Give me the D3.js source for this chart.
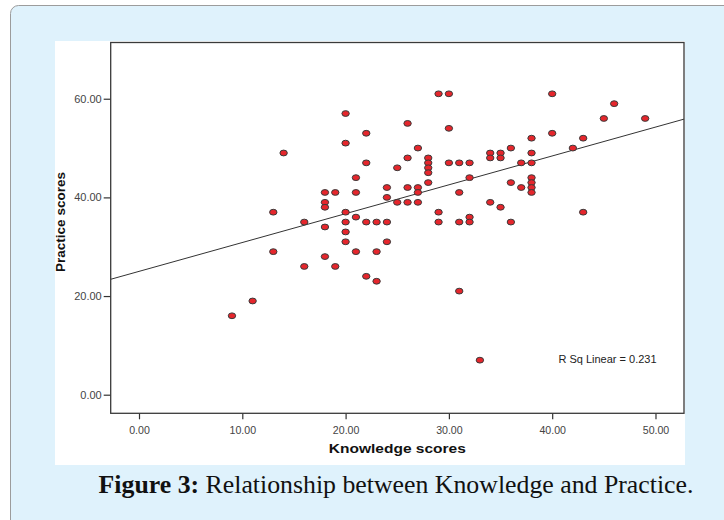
<!DOCTYPE html>
<html>
<head>
<meta charset="utf-8">
<script src="https://cdn.jsdelivr.net/npm/d3@7"></script>
<style>
  body { margin: 0; background: #ffffff; }
  svg { display: block; }
</style>
</head>
<body>
<script>
// Knowledge score (x) of each respondent
var knowledge = [9, 11, 13, 13, 14, 16, 16,
  18, 18, 18, 18, 18, 19, 19,
  20, 20, 20, 20, 20, 20,
  21, 21, 21, 21, 22, 22, 22, 22,
  23, 23, 23, 24, 24, 24, 24, 25, 25,
  26, 26, 26, 26, 27, 27, 27, 27,
  28, 28, 28, 28, 28, 29, 29, 29,
  30, 30, 30, 31, 31, 31, 31,
  32, 32, 32, 32, 33,
  34, 34, 34, 35, 35, 35, 36, 36, 36, 37, 37,
  38, 38, 38, 38, 38, 38, 38,
  40, 40, 42, 43, 43, 45, 46, 49];

// Practice score (y) of each respondent, same order
var practice = [16, 19, 37, 29, 49, 35, 26,
  41, 39, 38, 34, 28, 41, 26,
  57, 51, 37, 35, 33, 31,
  44, 41, 36, 29, 53, 47, 35, 24,
  35, 29, 23, 42, 40, 35, 31, 46, 39,
  55, 48, 42, 39, 50, 42, 41, 39,
  48, 47, 46, 45, 43, 61, 37, 35,
  61, 54, 47, 47, 41, 35, 21,
  47, 44, 36, 35, 7,
  49, 48, 39, 49, 48, 38, 50, 43, 35, 47, 42,
  52, 49, 47, 44, 43, 42, 41,
  61, 53, 50, 52, 37, 56, 59, 56];

var xTicks = [0, 10, 20, 30, 40, 50];
var yTicks = [0, 20, 40, 60];

// Fit line as printed by SPSS
var fitIntercept = 25.0;
var fitSlope = 0.585;
var rSquared = 0.231;

function drawChart() {

  var svgWidth = 724;
  var svgHeight = 520;

  // plot frame inside the white chart image
  var frame = { left: 110.7, top: 42.5, right: 684, bottom: 413.3 };
  var frameWidth = frame.right - frame.left;
  var frameHeight = frame.bottom - frame.top;

  var svg = d3.select("body")
      .append("svg")
      .attr("width", svgWidth)
      .attr("height", svgHeight);

  // light blue figure panel
  svg.append("rect")
      .attr("x", 10.5)
      .attr("y", 5.5)
      .attr("width", 740)
      .attr("height", 540)
      .attr("rx", 8)
      .attr("fill", "#dff2fc")
      .attr("stroke", "#9c9c9c");

  // white chart image
  svg.append("rect")
      .attr("x", 55)
      .attr("y", 41)
      .attr("width", 630)
      .attr("height", 424)
      .attr("fill", "#ffffff");

  var chartGroup = svg.append("g")
      .attr("transform", `translate(${frame.left}, ${frame.top})`);

  var xScale = d3.scaleLinear()
      .domain([-2.74, 52.76])
      .range([0, frameWidth]);

  var yScale = d3.scaleLinear()
      .domain([-3.77, 71.4])
      .range([frameHeight, 0]);

  var bottomAxis = d3.axisBottom(xScale)
      .tickValues(xTicks)
      .tickFormat(d3.format(".2f"))
      .tickSize(6)
      .tickPadding(7);

  var leftAxis = d3.axisLeft(yScale)
      .tickValues(yTicks)
      .tickFormat(d3.format(".2f"))
      .tickSize(7)
      .tickPadding(2);

  var xAxisGroup = chartGroup.append("g")
      .attr("transform", `translate(0, ${frameHeight})`)
      .call(bottomAxis);

  var yAxisGroup = chartGroup.append("g")
      .call(leftAxis);

  [xAxisGroup, yAxisGroup].forEach(function (g) {
    g.select(".domain").remove();
    g.selectAll(".tick line").attr("stroke", "#333").attr("stroke-width", 1.2);
    g.selectAll(".tick text")
        .attr("fill", "#444")
        .style("font-family", "'Liberation Sans', Arial, sans-serif");
  });
  xAxisGroup.selectAll(".tick text").style("font-size", "10.6px");
  yAxisGroup.selectAll(".tick text").style("font-size", "11px");

  // regression line, clipped to the frame
  svg.append("clipPath")
      .attr("id", "plot-clip")
      .append("rect")
      .attr("width", frameWidth)
      .attr("height", frameHeight);

  var xDomain = xScale.domain();
  chartGroup.append("line")
      .attr("clip-path", "url(#plot-clip)")
      .attr("x1", xScale(xDomain[0]))
      .attr("y1", yScale(fitIntercept + fitSlope * xDomain[0]))
      .attr("x2", xScale(xDomain[1]))
      .attr("y2", yScale(fitIntercept + fitSlope * xDomain[1]))
      .attr("stroke", "#333")
      .attr("stroke-width", 1);

  // one marker per respondent
  var points = knowledge.map(function (k, i) {
    return { x: k, y: practice[i] };
  });

  chartGroup.selectAll(".dot")
      .data(points)
      .enter()
      .append("ellipse")
      .attr("class", "dot")
      .attr("cx", d => xScale(d.x))
      .attr("cy", d => yScale(d.y))
      .attr("rx", 3.7)
      .attr("ry", 2.9)
      .attr("fill", "#e5262c")
      .attr("stroke", "#3a3a3a")
      .attr("stroke-width", 1);

  chartGroup.append("text")
      .attr("x", xScale(40.6))
      .attr("y", yScale(6.4))
      .attr("fill", "#222")
      .style("font-family", "'Liberation Sans', Arial, sans-serif")
      .style("font-size", "11px")
      .text("R Sq Linear = " + rSquared);

  // frame on top
  chartGroup.append("rect")
      .attr("width", frameWidth)
      .attr("height", frameHeight)
      .attr("fill", "none")
      .attr("stroke", "#3a3a3a")
      .attr("stroke-width", 1.3);

  // axis titles
  chartGroup.append("text")
      .attr("x", frameWidth / 2)
      .attr("y", frameHeight + 40)
      .attr("text-anchor", "middle")
      .attr("textLength", 137)
      .attr("lengthAdjust", "spacingAndGlyphs")
      .style("font-family", "'Liberation Sans', Arial, sans-serif")
      .style("font-size", "13.5px")
      .style("font-weight", "bold")
      .attr("fill", "#111")
      .text("Knowledge scores");

  svg.append("text")
      .attr("transform", `translate(65, 222) rotate(-90)`)
      .attr("text-anchor", "middle")
      .style("font-family", "'Liberation Sans', Arial, sans-serif")
      .style("font-size", "13.5px")
      .style("font-weight", "bold")
      .attr("fill", "#111")
      .text("Practice scores");

  // figure caption
  var caption = svg.append("text")
      .attr("x", 396)
      .attr("y", 493)
      .attr("text-anchor", "middle")
      .style("font-family", "'Liberation Serif', 'DejaVu Serif', serif")
      .style("font-size", "25.8px")
      .attr("fill", "#111");
  caption.append("tspan")
      .style("font-weight", "bold")
      .text("Figure 3:");
  caption.append("tspan")
      .text(" Relationship between Knowledge and Practice.");
}

drawChart();
</script>
</body>
</html>
